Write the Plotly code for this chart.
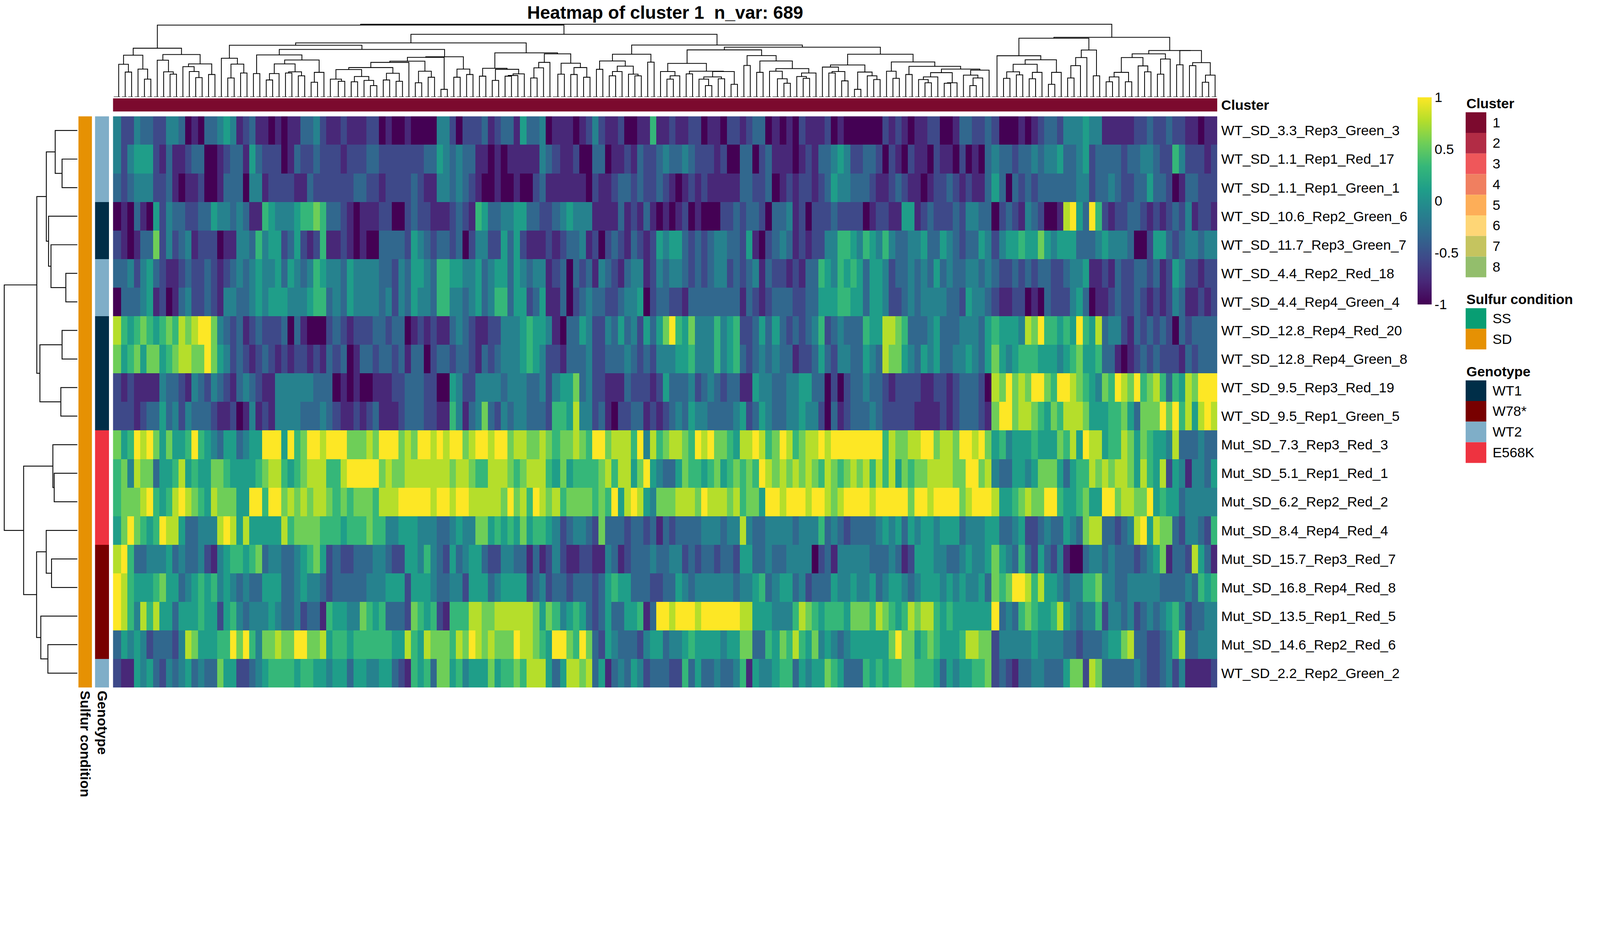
import numpy as np
import plotly.graph_objects as go

# ---------------- data ----------------
title_text = "Heatmap of cluster 1 \u00a0n_var: 689"
n_var = 689
cluster_id = "1"

row_labels = [
    "WT_SD_3.3_Rep3_Green_3", "WT_SD_1.1_Rep1_Red_17", "WT_SD_1.1_Rep1_Green_1",
    "WT_SD_10.6_Rep2_Green_6", "WT_SD_11.7_Rep3_Green_7", "WT_SD_4.4_Rep2_Red_18",
    "WT_SD_4.4_Rep4_Green_4", "WT_SD_12.8_Rep4_Red_20", "WT_SD_12.8_Rep4_Green_8",
    "WT_SD_9.5_Rep3_Red_19", "WT_SD_9.5_Rep1_Green_5", "Mut_SD_7.3_Rep3_Red_3",
    "Mut_SD_5.1_Rep1_Red_1", "Mut_SD_6.2_Rep2_Red_2", "Mut_SD_8.4_Rep4_Red_4",
    "Mut_SD_15.7_Rep3_Red_7", "Mut_SD_16.8_Rep4_Red_8", "Mut_SD_13.5_Rep1_Red_5",
    "Mut_SD_14.6_Rep2_Red_6", "WT_SD_2.2_Rep2_Green_2",
]
genotype = ["WT2", "WT2", "WT2", "WT1", "WT1", "WT2", "WT2", "WT1", "WT1", "WT1",
            "WT1", "E568K", "E568K", "E568K", "E568K", "W78*", "W78*", "W78*", "W78*", "WT2"]
sulfur = ["SD", "SD", "SD", "SD", "SD", "SD", "SD", "SD", "SD", "SD",
          "SD", "SD", "SD", "SD", "SD", "SD", "SD", "SD", "SD", "SD"]

# scaled values, 0 = -1 ... 9 = +1, one digit per ~4 columns
level_rows = [
    "42243322443010334541231101011" "33421121112201001000044202223" "12331533401110124211200116112" "11220110221233010102111201000" "00021210112200133223200010123" "32444544111112232232211011",
    "42455521311233001233153222013" "22322212223322222223354343311" "01011111432112003301121322343" "34322212003302311101213345422" "33202102110211020103433233434" "45334523333233443226422212",
    "32344422310112001333044122221" "13222222332212222321144343210" "01001002311111102112332322321" "01212111113322301212212354433" "32112321101223212113530323233" "33334423343223353320133222",
    "01031052433223354434311654445" "66763321011122002322111232165" "33445533223454441111312131010" "12010002232332033412022232222" "01221155123222324433023214320" "01895396212233212123241221",
    "21013372423412220114436455235" "21261121010033332543233230244" "22535211121233412023213212545" "53232344332510234312122446654" "65464334453354323354245565575" "45553334544430025532344344",
    "33424532112322321234345445354" "34654435444433243554366554453" "45535434412303231432134412434" "43232344232341322121336546565" "35542334343534334434322323233" "22344511213223323125422122",
    "03334512013422321443345455544" "45663435444434243544366443453" "46635523511302343322344502332" "21333333331321233322335556655" "35542234344443325443211220103" "22245301123223212124311212",
    "86567656768789974323123222303" "10002321222332330121211343211" "22444565541033542243534253579" "65744464562235353232346234333" "65588763334533344435655548796" "65659658344213232320323333",
    "75675775678877975423212321212" "21213230133233231330233233213" "23444565422133342233343232444" "55644464563234343312235324433" "54387754354533445435754566655" "54567556331012323222132333",
    "21211114332143243213432114444" "44333010100111223332200542244" "44344433424557342211132221253" "33423432331154433445533020233" "43321222211221233320879787997" "69987654769879678636587999",
    "22212335342433321120141214444" "33343211212311123332211641347" "32434433326658442310223312123" "43544333345235433445442031233" "34322222111121233321799788765" "76888755566753777979685898",
    "75698975755696543553455999596" "79989997778799978799898997899" "89978877876778769978886948678" "87698977658898679867889899999" "99968778899788799897564555655" "57685988566875765548333433",
    "67487735568565577655556788656" "78886689999978778888888788766" "88876788865756666786885795433" "57665675676769878787876876787" "86868576778888779978433554577" "75356687878875865825414435",
    "67778965689876587775599699787" "87887676777688899999899899888" "88797869878677776769589854777" "88879888786775998999899878999" "98999997998999978999855678779" "96556755997887795655344444",
    "57976569885334448985855555867" "77766656667664455544433454477" "56565756654234432733323323132" "33334443448433444434446343233" "33454535455455534445533452234" "33543788332348958773244326",
    "89633444534334214566567344334" "56752322333443225546432534553" "22443313124211221143123334334" "42323323325533433444402314444" "43334312555443345445754363253" "24100344343332345713328531",
    "98655567553456564543433555334" "54432333334445552555433442555" "34555523423323332356553332233" "54344444434456345534233354454" "45345543455545454453767998685" "54344667443344444333343656",
    "98648685535556552564344454334" "23316554476563332765621666887" "78888887576456532353355613998" "99989999998855544468765666577" "76876568788656555555934367655" "68543446244342343456423344",
    "35454233324875556697964778779" "97785665666666558658777687987" "87779887659976973254333245534" "45655554557733657686574543455" "55557977567655568877244444544" "44332333455783322346833444",
    "21154532434534337552234566665" "66554553554455321656377564555" "75667688853588783513435423332" "26353343346154456635455765333" "65656677666535455667232133443" "33577287333334322342411112",
]

# row dendrogram: (node a, node b, merge height); leaves 0..19, new nodes 20..
row_merges = [
    (1, 2, 1.38), (0, 20, 2.00), (5, 6, 1.04), (4, 22, 2.38), (3, 23, 2.60),
    (21, 24, 2.80), (7, 8, 1.38), (9, 10, 1.49), (26, 27, 3.38), (25, 28, 3.66),
    (12, 13, 2.09), (11, 30, 2.21), (15, 16, 2.33), (14, 32, 2.81), (18, 19, 2.66),
    (17, 34, 3.30), (33, 35, 3.68), (31, 36, 4.85), (29, 37, 6.60),
]

cluster_levels = ["1", "2", "3", "4", "5", "6", "7", "8"]
cluster_colors = ["#7C0A2E", "#B22C45", "#EF575A", "#F07F60", "#FDAE58", "#FED676", "#C5C45F", "#93BE6C"]
sulfur_levels = ["SS", "SD"]
sulfur_colors = ["#089E73", "#E69103"]
genotype_levels = ["WT1", "W78*", "WT2", "E568K"]
genotype_colors = ["#002E48", "#780000", "#7FAEC8", "#EE3340"]

colorbar_tickvals = [-1, -0.5, 0, 0.5, 1]
colorbar_ticktext = ["-1", "-0.5", "0", "0.5", "1"]

# ---------------- layout constants ----------------
# positions are given in reference pixels (4800 x 2400); the page is laid out in CSS px
REF_W, REF_H = 4800, 2400
W, H = 4096, 2048
K = W / REF_W
FONT = "Liberation Sans, Arial, Helvetica, sans-serif"
FS = 41.7 * K


def px(x):
    return x / REF_W


def py(y):
    return 1 - y / REF_H


HM_L, HM_R, HM_T, HM_B = 337, 3654, 347, 2064
n_rows = len(level_rows)

# ---------------- build matrix ----------------
Z = np.zeros((n_rows, n_var))
for r, s in enumerate(level_rows):
    L = len(s)
    for j in range(n_var):
        d = int(s[min(L - 1, int(j * L / n_var))])
        Z[r, j] = -1 + 2 * d / 9.0

# ---------------- column dendrogram (order-preserving complete linkage) ----------------
X = Z.T
sq = (X ** 2).sum(1)
D = np.sqrt(np.maximum(sq[:, None] + sq[None, :] - 2 * X @ X.T, 0))
CD = D.copy()
order = list(range(n_var))
cpos = {i: float(i) for i in range(n_var)}
chgt = {i: 0.0 for i in range(n_var)}
cx, cy = [], []
while len(order) > 1:
    a = np.array(order[:-1])
    b = np.array(order[1:])
    d = CD[a, b]
    k = int(np.argmin(d))
    i, j = order[k], order[k + 1]
    h = float(d[k])
    cx += [cpos[i], cpos[i], cpos[j], cpos[j], None]
    cy += [chgt[i], h, h, chgt[j], None]
    newrow = np.maximum(CD[i], CD[j])
    CD[i, :] = newrow
    CD[:, i] = newrow
    cpos[i] = (cpos[i] + cpos[j]) / 2
    chgt[i] = h
    del order[k + 1]
col_root = chgt[order[0]]

# ---------------- row dendrogram ----------------
rpos = {i: float(i) for i in range(n_rows)}
rhgt = {i: 0.0 for i in range(n_rows)}
rx, ry = [], []
for k, (a, b, h) in enumerate(row_merges):
    nid = n_rows + k
    rx += [rhgt[a], h, h, rhgt[b], None]
    ry += [rpos[a], rpos[a], rpos[b], rpos[b], None]
    rpos[nid] = (rpos[a] + rpos[b]) / 2
    rhgt[nid] = h
row_root = max(m[2] for m in row_merges)


def discrete_scale(colors):
    n = len(colors)
    sc = []
    for i, c in enumerate(colors):
        lo = 0 if i == 0 else (i - 0.5) / (n - 1)
        hi = 1 if i == n - 1 else (i + 0.5) / (n - 1)
        sc += [[lo, c], [hi, c]]
    return sc


fig = go.Figure()

# main heatmap
fig.add_trace(go.Heatmap(
    z=Z, x=list(range(n_var)), y=list(range(n_rows)),
    colorscale="Viridis", zmin=-1, zmax=1, xaxis="x", yaxis="y", hoverinfo="skip",
    colorbar=dict(x=px(4255), xanchor="left", y=py(290), yanchor="top",
                  len=(913 - 290) / REF_H, lenmode="fraction", thickness=42 * K,
                  thicknessmode="pixels", outlinewidth=0, tickvals=colorbar_tickvals,
                  ticktext=colorbar_ticktext, ticks="",
                  tickfont=dict(size=FS, family=FONT, color="black"), xpad=0, ypad=0),
))

# cluster annotation bar
cl_code = [[cluster_levels.index(cluster_id)] * n_var]
fig.add_trace(go.Heatmap(
    z=cl_code, x=list(range(n_var)), y=[0], zmin=0, zmax=len(cluster_levels) - 1,
    colorscale=discrete_scale(cluster_colors), showscale=False, hoverinfo="skip",
    xaxis="x2", yaxis="y2"))

# row dendrogram
fig.add_trace(go.Scatter(x=rx, y=ry, mode="lines", line=dict(color="black", width=2.6 * K),
                         hoverinfo="skip", showlegend=False, xaxis="x3", yaxis="y3"))

# sulfur bar
fig.add_trace(go.Heatmap(
    z=[[sulfur_levels.index(s)] for s in sulfur], x=[0], y=list(range(n_rows)),
    zmin=0, zmax=len(sulfur_levels) - 1, colorscale=discrete_scale(sulfur_colors),
    showscale=False, hoverinfo="skip", xaxis="x4", yaxis="y4"))

# genotype bar
fig.add_trace(go.Heatmap(
    z=[[genotype_levels.index(g)] for g in genotype], x=[0], y=list(range(n_rows)),
    zmin=0, zmax=len(genotype_levels) - 1, colorscale=discrete_scale(genotype_colors),
    showscale=False, hoverinfo="skip", xaxis="x5", yaxis="y5"))

# column dendrogram
fig.add_trace(go.Scatter(x=cx, y=cy, mode="lines", line=dict(color="black", width=2.4 * K),
                         hoverinfo="skip", showlegend=False, xaxis="x6", yaxis="y6"))

hidden = dict(visible=False, showgrid=False, zeroline=False, fixedrange=True)
hm_x_dom = [px(HM_L), px(HM_R)]
hm_y_dom = [py(HM_B), py(HM_T)]
xr = [-0.5, n_var - 0.5]
yr = [n_rows - 0.5, -0.5]
tickfont = dict(size=FS, family=FONT, color="black")
SO_ROW = int(round(10 * K))
SO_BOT = int(round(8 * K))

fig.update_layout(
    width=W, height=H, autosize=False,
    margin=dict(l=0, r=0, t=0, b=0),
    paper_bgcolor="white", plot_bgcolor="white", showlegend=False,
    font=dict(family=FONT, color="black"),
    title=dict(text="<b>" + title_text + "</b>", x=px((HM_L + HM_R) / 2), xanchor="center",
               y=py(37), yanchor="middle", font=dict(size=54 * K, family=FONT, color="black")),
    xaxis=dict(domain=hm_x_dom, range=xr, anchor="y", **hidden),
    yaxis=dict(domain=hm_y_dom, range=yr, anchor="x", side="right", showgrid=False,
               zeroline=False, showline=False, ticks="", tickvals=list(range(n_rows)),
               ticktext=row_labels, tickfont=tickfont, ticklabelstandoff=SO_ROW),
    xaxis2=dict(domain=hm_x_dom, range=xr, anchor="y2", **hidden),
    yaxis2=dict(domain=[py(333), py(293)], range=[-0.5, 0.5], anchor="x2", side="right",
                showgrid=False, zeroline=False, showline=False, ticks="", tickvals=[0],
                ticktext=["<b>Cluster</b>"], tickfont=tickfont, ticklabelstandoff=SO_ROW),
    xaxis3=dict(domain=[px(6), px(230)], range=[row_root * 1.02, 0], anchor="y3", **hidden),
    yaxis3=dict(domain=hm_y_dom, range=yr, anchor="x3", **hidden),
    xaxis4=dict(domain=[px(233), px(274)], range=[-0.5, 0.5], anchor="y4", side="bottom",
                showgrid=False, zeroline=False, showline=False, ticks="", tickvals=[0],
                ticktext=["<b>Sulfur condition</b>"], tickangle=90, tickfont=tickfont,
                ticklabelstandoff=SO_BOT),
    yaxis4=dict(domain=hm_y_dom, range=yr, anchor="x4", **hidden),
    xaxis5=dict(domain=[px(283), px(325)], range=[-0.5, 0.5], anchor="y5", side="bottom",
                showgrid=False, zeroline=False, showline=False, ticks="", tickvals=[0],
                ticktext=["<b>Genotype</b>"], tickangle=90, tickfont=tickfont,
                ticklabelstandoff=SO_BOT),
    yaxis5=dict(domain=hm_y_dom, range=yr, anchor="x5", **hidden),
    xaxis6=dict(domain=hm_x_dom, range=xr, anchor="y6", **hidden),
    yaxis6=dict(domain=[py(289), py(66)], range=[0, col_root * 1.02], anchor="x6", **hidden),
)

# discrete legends
legend_blocks = [
    ("Cluster", cluster_levels, cluster_colors, 309, 335),
    ("Sulfur condition", sulfur_levels, sulfur_colors, 897, 924),
    ("Genotype", genotype_levels, genotype_colors, 1115, 1141),
]
SW_L, SW_R, SW_H, LAB_X = 4400, 4462, 62, 4478
shapes, annots = [], []
for title, levels, colors, ty, top in legend_blocks:
    annots.append(dict(text="<b>" + title + "</b>", x=px(SW_L), y=py(ty), xref="paper",
                       yref="paper", xanchor="left", yanchor="middle", showarrow=False,
                       font=dict(size=FS, family=FONT, color="black")))
    for i, (lev, col) in enumerate(zip(levels, colors)):
        y0 = top + i * SW_H
        shapes.append(dict(type="rect", xref="paper", yref="paper", x0=px(SW_L), x1=px(SW_R),
                           y0=py(y0 + SW_H), y1=py(y0), fillcolor=col, line=dict(width=0),
                           layer="above"))
        annots.append(dict(text=lev, x=px(LAB_X), y=py(y0 + SW_H / 2), xref="paper",
                           yref="paper", xanchor="left", yanchor="middle", showarrow=False,
                           font=dict(size=FS, family=FONT, color="black")))
fig.update_layout(shapes=shapes, annotations=annots)

fig.write_html("out.html", config={"displayModeBar": False},
               post_script="document.body.style.margin='0';document.body.style.overflow='hidden';")
